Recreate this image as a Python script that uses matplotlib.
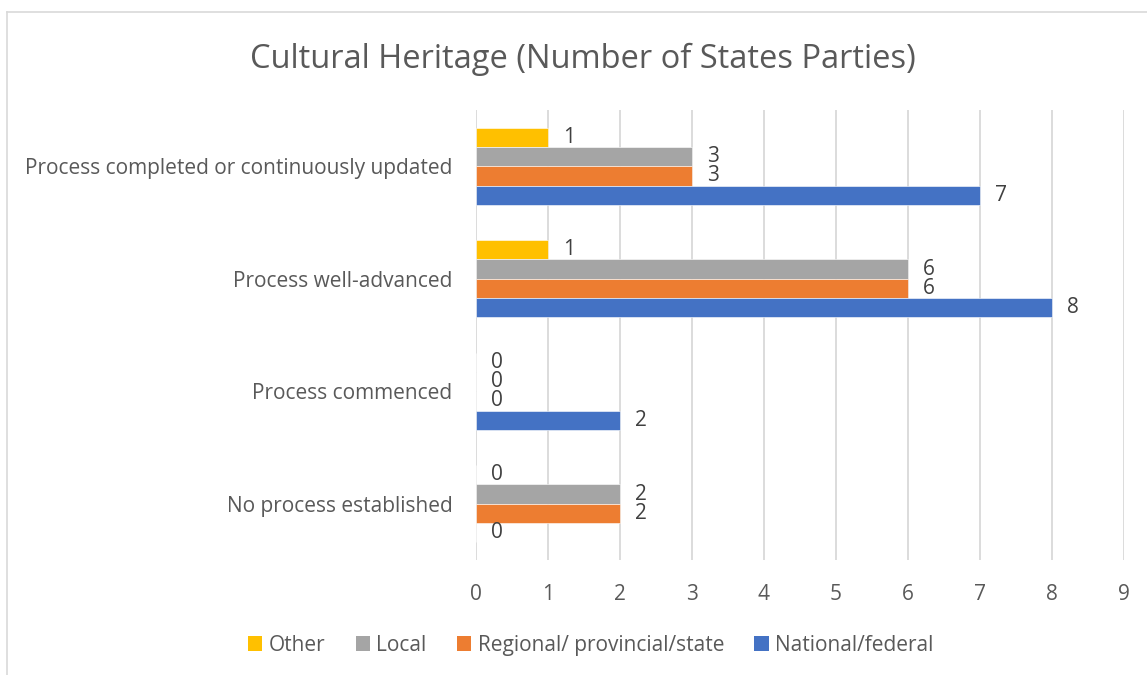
import numpy as np
import matplotlib
matplotlib.use("Agg")
import matplotlib.pyplot as plt
from matplotlib.patches import Patch
from matplotlib.lines import Line2D

# data
categories = ["Process completed or continuously updated",
              "Process well-advanced",
              "Process commenced",
              "No process established"]
series_names = ["Other", "Local", "Regional/ provincial/state", "National/federal"]
other = [1, 1, 0, 0]
local = [3, 6, 0, 2]
regional = [3, 6, 0, 2]
national = [7, 8, 2, 0]
xticks = [0, 1, 2, 3, 4, 5, 6, 7, 8, 9]

colors = ["#FFC000", "#A5A5A5", "#ED7D31", "#4472C4"]
txt = "#595959"
grid = "#D9D9D9"

plt.rcParams['font.family'] = ['Open Sans', 'DejaVu Sans']

fig = plt.figure(figsize=(11.47, 6.75), dpi=100)
ax = fig.add_axes([476 / 1147, 1 - 560 / 675, 648 / 1147, 450 / 675])

y = np.arange(len(categories))
h = 0.172
values = [other, local, regional, national]
for j, vals in enumerate(values):
    off = (j - 1.5) * h
    bars = ax.barh(y + off, vals, height=h, color=colors[j],
                   edgecolor="white", linewidth=0.4, zorder=3)
    ax.bar_label(bars, labels=[str(v) for v in vals], padding=11,
                 fontsize=15, color="#404040")

ax.set_xlim(0, 9)
ax.set_ylim(len(categories) - 0.5, -0.5)
ax.set_xticks(xticks)
ax.set_xticklabels([str(t) for t in xticks])
ax.set_yticks(y)
ax.set_yticklabels(categories)
ax.tick_params(axis='x', length=0, pad=17, labelsize=15, labelcolor=txt)
ax.tick_params(axis='y', length=0, pad=17, labelsize=15, labelcolor=txt)
for s in ax.spines.values():
    s.set_visible(False)
ax.grid(True, axis='x', color=grid, linewidth=1.3, zorder=0)
ax.set_axisbelow(True)

fig.text(0.508, 0.912, "Cultural Heritage (Number of States Parties)",
         ha='center', va='center', fontsize=23.5, color=txt)

handles = [Patch(facecolor=c, edgecolor='none') for c in colors]
fig.legend(handles, series_names, loc='center', bbox_to_anchor=(0.515, 0.044),
           ncol=4, frameon=False, fontsize=15, labelcolor=txt,
           handlelength=0.7, handleheight=0.7, handletextpad=0.3,
           columnspacing=1.45)

# chart border (top and left visible)
fig.add_artist(Line2D([7.5 / 1147, 1], [1 - 11.5 / 675, 1 - 11.5 / 675],
                      color=grid, linewidth=1.2, transform=fig.transFigure))
fig.add_artist(Line2D([7.5 / 1147, 7.5 / 1147], [0, 1 - 11.5 / 675],
                      color=grid, linewidth=1.2, transform=fig.transFigure))

fig.savefig("out.png", dpi=100, facecolor="white")
